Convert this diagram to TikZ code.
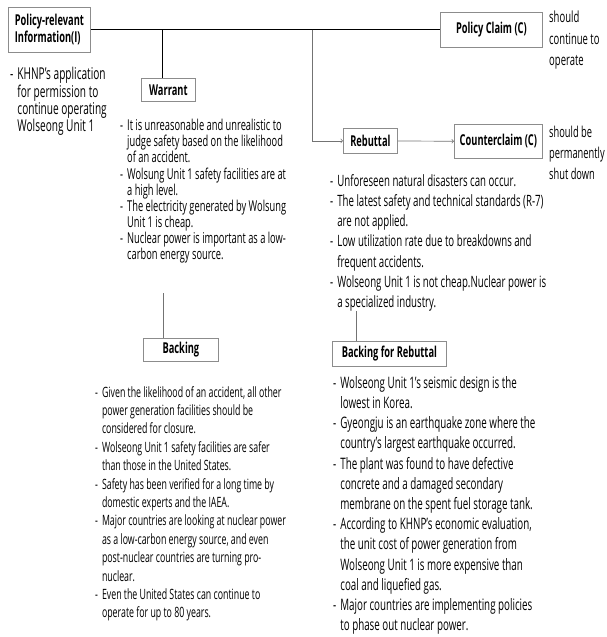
\documentclass[tikz,border=0pt]{standalone}
\usepackage{fontspec}
\setmainfont{Open Sans}[FakeStretch=0.62]
\usetikzlibrary{positioning}
\newenvironment{dashlist}{\begin{tabular}{@{}l@{\hspace{4pt}}l@{}}}{\end{tabular}}

\begin{document}
\begin{tikzpicture}[x=1pt, y=1pt, >=to,
    box/.style={draw=boxgray, line width=0.8pt, inner sep=3pt, align=left,
      font=\bfseries\fontsize{15}{17}\selectfont},
    list/.style={anchor=north west, inner sep=0pt},
    side/.style={anchor=north west, inner sep=0pt, align=left},
    link/.style={draw=black, line width=1pt},
    thin/.style={draw=linegray, line width=0.7pt},
    reb/.style={draw=linegray, line width=0.7pt, ->}]

  % Colors
  \colorlet{boxgray}{black!45}
  \colorlet{linegray}{black!55}

  \useasboundingbox (0,0) rectangle (606,-637);

  % Boxes
  \node[box, anchor=north west, minimum width=82, minimum height=45] (info) at (8,-7) {Policy-relevant\\Information(I)};
  \node[box, anchor=north west, minimum width=102, minimum height=35] (claim) at (440,-12) {Policy Claim (C)};
  \node[box, anchor=north west, minimum width=54, minimum height=23] (warrant) at (141,-78) {Warrant};
  \node[box, anchor=north west, minimum width=54, minimum height=25] (rebuttal) at (343,-128) {Rebuttal};
  \node[box, anchor=north west, minimum width=88, minimum height=34] (counter) at (454,-124) {Counterclaim (C)};
  \node[box, anchor=north west, minimum width=75, minimum height=23] (backing) at (143,-338) {Backing};
  \node[box, anchor=north west, minimum width=114, minimum height=25] (bfr) at (332,-341) {Backing for Rebuttal};

  % Side notes
  \node[side, font=\fontsize{15.3}{21.5}\selectfont] (claimnote) at (549,-11) {should\\continue to\\operate};
  \node[side, font=\fontsize{15}{21}\selectfont] (counternote) at (549,-126) {should be\\permanently\\shut down};

  % Lists
  \node[list, font=\fontsize{16.3}{17}\selectfont] (infolist) at (10,-67) {\begin{dashlist}
    - & KHNP's application \\
      & for permission to \\
      & continue operating \\
      & Wolseong Unit 1
  \end{dashlist}};

  \node[list, font=\fontsize{15}{15.7}\selectfont] (warrantlist) at (120,-119) {\begin{dashlist}
    - & It is unreasonable and unrealistic to \\
      & judge safety based on the likelihood \\
      & of an accident. \\
    - & Wolsung Unit 1 safety facilities are at \\
      & a high level. \\
    - & The electricity generated by Wolsung \\
      & Unit 1 is cheap. \\
    - & Nuclear power is important as a low- \\
      & carbon energy source.
  \end{dashlist}};

  \node[list, font=\fontsize{15.6}{20.2}\selectfont] (rebuttallist) at (330,-172) {\begin{dashlist}
    - & Unforeseen natural disasters can occur. \\
    - & The latest safety and technical standards (R-7) \\
      & are not applied. \\
    - & Low utilization rate due to breakdowns and \\
      & frequent accidents. \\
    - & Wolseong Unit 1 is not cheap.Nuclear power is \\
      & a specialized industry.
  \end{dashlist}};

  \node[list, font=\fontsize{14.2}{18.4}\selectfont] (backinglist) at (95,-384) {\begin{dashlist}
    - & Given the likelihood of an accident, all other \\
      & power generation facilities should be \\
      & considered for closure. \\
    - & Wolseong Unit 1 safety facilities are safer \\
      & than those in the United States. \\
    - & Safety has been verified for a long time by \\
      & domestic experts and the IAEA. \\
    - & Major countries are looking at nuclear power \\
      & as a low-carbon energy source, and even \\
      & post-nuclear countries are turning pro- \\
      & nuclear. \\
    - & Even the United States can continue to \\
      & operate for up to 80 years.
  \end{dashlist}};

  \node[list, font=\fontsize{15.8}{20.2}\selectfont] (bfrlist) at (333,-374) {\begin{dashlist}
    - & Wolseong Unit 1's seismic design is the \\
      & lowest in Korea. \\
    - & Gyeongju is an earthquake zone where the \\
      & country's largest earthquake occurred. \\
    - & The plant was found to have defective \\
      & concrete and a damaged secondary \\
      & membrane on the spent fuel storage tank. \\
    - & According to KHNP's economic evaluation, \\
      & the unit cost of power generation from \\
      & Wolseong Unit 1 is more expensive than \\
      & coal and liquefied gas. \\
    - & Major countries are implementing policies \\
      & to phase out nuclear power.
  \end{dashlist}};

  % Connectors
  \coordinate (wj) at (162,-29.5);
  \coordinate (rj) at (312,-29.5);
  \coordinate (wb) at (163,-293);
  \coordinate (rb) at (356,-311);

  \draw[link] (info.east) -- (claim.west);
  \draw[link, line width=0.8pt] (wj) -- (wj |- warrant.north);
  \draw[reb] (rj) |- (rebuttal.west);
  \draw[reb] (rebuttal) -- (counter);
  \draw[thin] (wb) -- (wb |- backing.north);
  \draw[thin] (rb) -- (rb |- bfr.north);

\end{tikzpicture}
\end{document}
